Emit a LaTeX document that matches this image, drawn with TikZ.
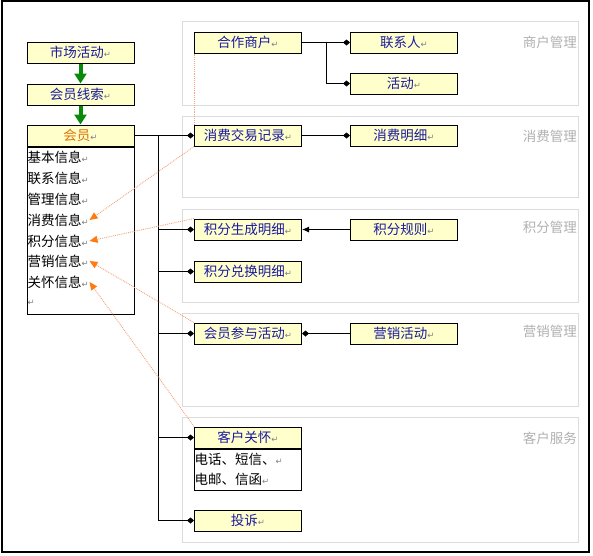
\documentclass[tikz,border=0pt]{standalone}
\usepackage{fontspec}
\usetikzlibrary{arrows.meta, positioning}
\newfontfamily\cjk{Noto Sans CJK SC}
\newfontfamily\symfont{DejaVu Sans}
\definecolor{boxyellow}{HTML}{FFFFCC}
\definecolor{textblue}{HTML}{1A1AA0}
\definecolor{memberorange}{HTML}{E07000}
\definecolor{panelgray}{HTML}{DCDCDC}
\definecolor{labelgray}{HTML}{B0B0B0}
\definecolor{linkorange}{HTML}{F4A27A}
\definecolor{tiporange}{HTML}{FF7A10}
\definecolor{arrowgreen}{HTML}{0A8A0A}
\newcommand{\ret}{{\symfont\fontsize{8.5}{8.5}\selectfont\textcolor{gray}{↵}}}

\tikzset{
  box/.style={rectangle, draw, line width=1pt, fill=boxyellow, minimum width=107pt, minimum height=21pt, inner sep=0pt, text=textblue, font=\cjk\fontsize{13.5}{15}\selectfont},
  item/.style={anchor=west, inner sep=0.5pt, font=\cjk\fontsize{13.5}{15}\selectfont},
  panel/.style={draw=panelgray, line width=1pt},
  panellabel/.style={anchor=east, inner sep=0pt, text=labelgray, font=\cjk\fontsize{13.5}{15}\selectfont},
  link/.style={line width=1pt, -{Diamond[length=7pt,width=6pt]}},
  flow/.style={arrowgreen, line width=4pt, -{Triangle[length=10pt,width=12pt]}},
  ref/.style={linkorange, densely dotted, line width=0.9pt, -{Triangle[length=8pt,width=7pt,color=tiporange]}}
}

\begin{document}
\begin{tikzpicture}[x=1pt, y=-1pt]
\useasboundingbox (0,0) rectangle (593,555);
\draw[line width=1.5pt] (2,1) rectangle (589,552);

% Panels
\draw[panel] (182,21) rectangle (578,105);
\draw[panel] (182,116) rectangle (578,197);
\draw[panel] (182,209) rectangle (578,302);
\draw[panel] (182,313) rectangle (578,406);
\draw[panel] (182,417) rectangle (578,542);
\node[panellabel] (shlabel) at (577,42) {商户管理};
\node[panellabel] (xflabel) at (577,136) {消费管理};
\node[panellabel] (jflabel) at (577,227) {积分管理};
\node[panellabel] (yxlabel) at (577,331) {营销管理};
\node[panellabel] (khlabel) at (577,438) {客户服务};

% Left column
\node[box] (scm) at (80.5,52.5) {市场活动\ret};
\node[box] (hyxs) at (80.5,94.5) {会员线索\ret};
\node[box, text=memberorange] (member) at (80.5,135.5) {会员\ret};
\node[rectangle, draw, line width=1pt, minimum width=107pt, minimum height=167pt, inner sep=0pt, below=0pt of member] (memberbody) {};
\node[item] (jiben) at (27,157) {基本信息\ret};
\node[item] (lianxi) at (27,178) {联系信息\ret};
\node[item] (guanli) at (27,199) {管理信息\ret};
\node[item] (xiaofei) at (27,220) {消费信息\ret};
\node[item] (jifen) at (27,241) {积分信息\ret};
\node[item] (yingxiao) at (27,261) {营销信息\ret};
\node[item] (guanhuai) at (27,282) {关怀信息\ret};
\node[item] (blank) at (27,303) {\ret};

% Right column
\node[box] (hzsh) at (248,42.5) {合作商户\ret};
\node[box] (lxr) at (404,42.5) {联系人\ret};
\node[box] (huodong) at (404,83.5) {活动\ret};
\node[box] (xfjl) at (248,135.5) {消费交易记录\ret};
\node[box] (xfmx) at (404,135.5) {消费明细\ret};
\node[box] (jfsc) at (248,229.5) {积分生成明细\ret};
\node[box] (jfgz) at (404,229.5) {积分规则\ret};
\node[box] (jfdh) at (248,271.5) {积分兑换明细\ret};
\node[box] (hdcy) at (248,333.5) {会员参与活动\ret};
\node[box] (yxhd) at (404,333.5) {营销活动\ret};
\node[box] (khgh) at (248,437.5) {客户关怀\ret};
\node[rectangle, draw, line width=1pt, minimum width=107pt, minimum height=41pt, inner sep=0pt, below=0pt of khgh] (khghbody) {};
\node[item, text=black] (khgh1) at (194,459) {电话、短信、\ret};
\node[item, text=black] (khgh2) at (194,479) {电邮、信函\ret};
\node[box] (ts) at (248,520.5) {投诉\ret};

% Flow arrows
\draw[flow] (scm.south) -- (hyxs.north);
\draw[flow] (hyxs.south) -- (member.north);

% Connectors
\coordinate (trunk) at (158,135.5);
\draw[link] (member.east) -- (xfjl.west);
\draw[link] (trunk) |- (jfsc.west);
\draw[link] (trunk) |- (jfdh.west);
\draw[link] (trunk) |- (hdcy.west);
\draw[link] (trunk) |- (khgh.west);
\draw[link] (trunk) |- (ts.west);
\draw[link] (hzsh.east) -- (lxr.west);
\coordinate (split) at (326,42.5);
\draw[link] (split) |- (huodong.west);
\draw[link] (xfjl.east) -- (xfmx.west);
\draw[line width=1pt, -{Latex[length=7pt,width=6pt]}] (jfgz.west) -- (jfsc.east);
\draw[link] (yxhd.west) -- (hdcy.east);

% Info links
\draw[ref, -] (hzsh.south west) -- (xfjl.north west);
\draw[ref] (xfjl.south west) -- (xiaofei.east);
\draw[ref] (jfsc.north west) -- (jifen.east);
\draw[ref] (hdcy.north west) -- (yingxiao.east);
\draw[ref] (khgh.north west) -- (guanhuai.east);
\end{tikzpicture}
\end{document}
